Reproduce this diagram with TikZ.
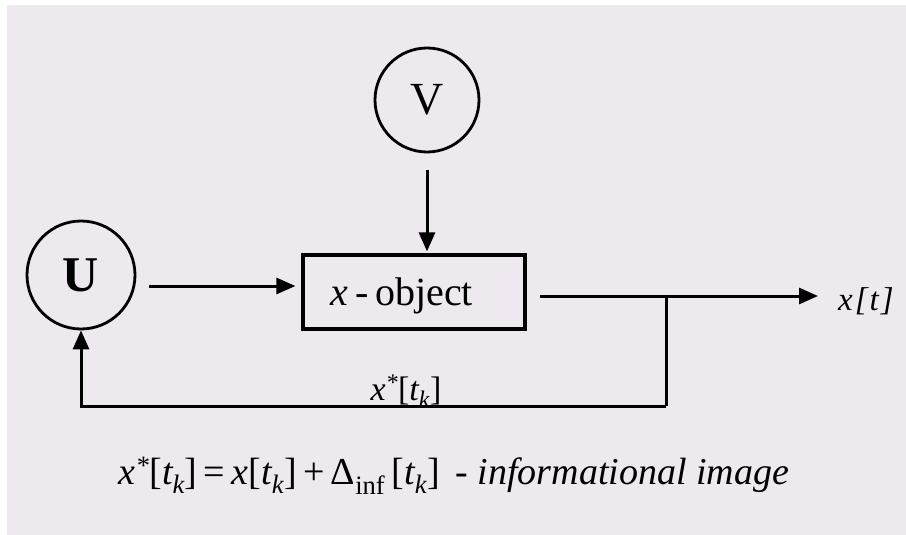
\documentclass[tikz,border=0pt]{standalone}
\usepackage{fontspec}
\setmainfont{Liberation Serif}
\usetikzlibrary{arrows.meta}
\definecolor{paper}{RGB}{238,233,239}
\tikzset{
  conn/.style={line width=3pt, -{Triangle[length=19pt,width=16pt]}},
  plain/.style={line width=3pt},
  circ/.style={circle, draw, line width=2.8pt, minimum size=104pt, inner sep=0pt},
  objbox/.style={draw, line width=3.2pt, minimum width=222pt, minimum height=74pt, inner sep=0pt},
  lbl/.style={inner sep=0pt, anchor=base}
}
\begin{document}
\begin{tikzpicture}[x=1pt,y=-1pt]
\useasboundingbox (0,0) rectangle (906,535);
\fill[white] (0,0) rectangle (906,535);
\fill[paper] (7,5) rectangle (906,535);
\node[circ] (V) at (427,100) {\fontsize{46}{50}\selectfont V};
\node[circ, minimum size=108pt] (U) at (81,275) {\fontsize{50}{54}\selectfont\bfseries U};
\node[objbox] (box) at (414,292) {};
\node[lbl] (boxtxt) at (402,305) {\fontsize{40}{44}\selectfont\itshape x\upshape\,-\,object};
\coordinate (tip) at (818,296);
\coordinate (j) at (666,296);
\coordinate (b) at (666,406);
\node[lbl, anchor=base west] (xt) at (838,310) {\fontsize{33}{36}\selectfont\itshape x\kern2pt[\kern2pt t\kern2pt]};
\draw[conn, shorten <=17pt, shorten >=2pt] (V.south) -- (V.south |- box.north);
\draw[conn, shorten <=13pt, shorten >=6pt] (U.east |- 0,286) -- (box.west |- 0,286);
\draw[conn, shorten <=13pt] (box.east |- tip) -- (tip);
\draw[plain] (j) -- (b);
\draw[conn] (b) -| (U.south);
\node[lbl] (fb) at (406,400) {\fontsize{34}{38}\selectfont\itshape x\textsuperscript{*}\upshape[\itshape t\textsubscript{k}\upshape]};
\node[lbl] (formula) at (454,484) {\fontsize{38}{42}\selectfont\itshape x\textsuperscript{*}\upshape[\itshape t\textsubscript{k}\upshape]\,=\,\itshape x\upshape[\itshape t\textsubscript{k}\upshape]\,+\,Δ\textsubscript{inf}\,[\itshape t\textsubscript{k}\upshape]\, - \itshape informational image};
\end{tikzpicture}
\end{document}
